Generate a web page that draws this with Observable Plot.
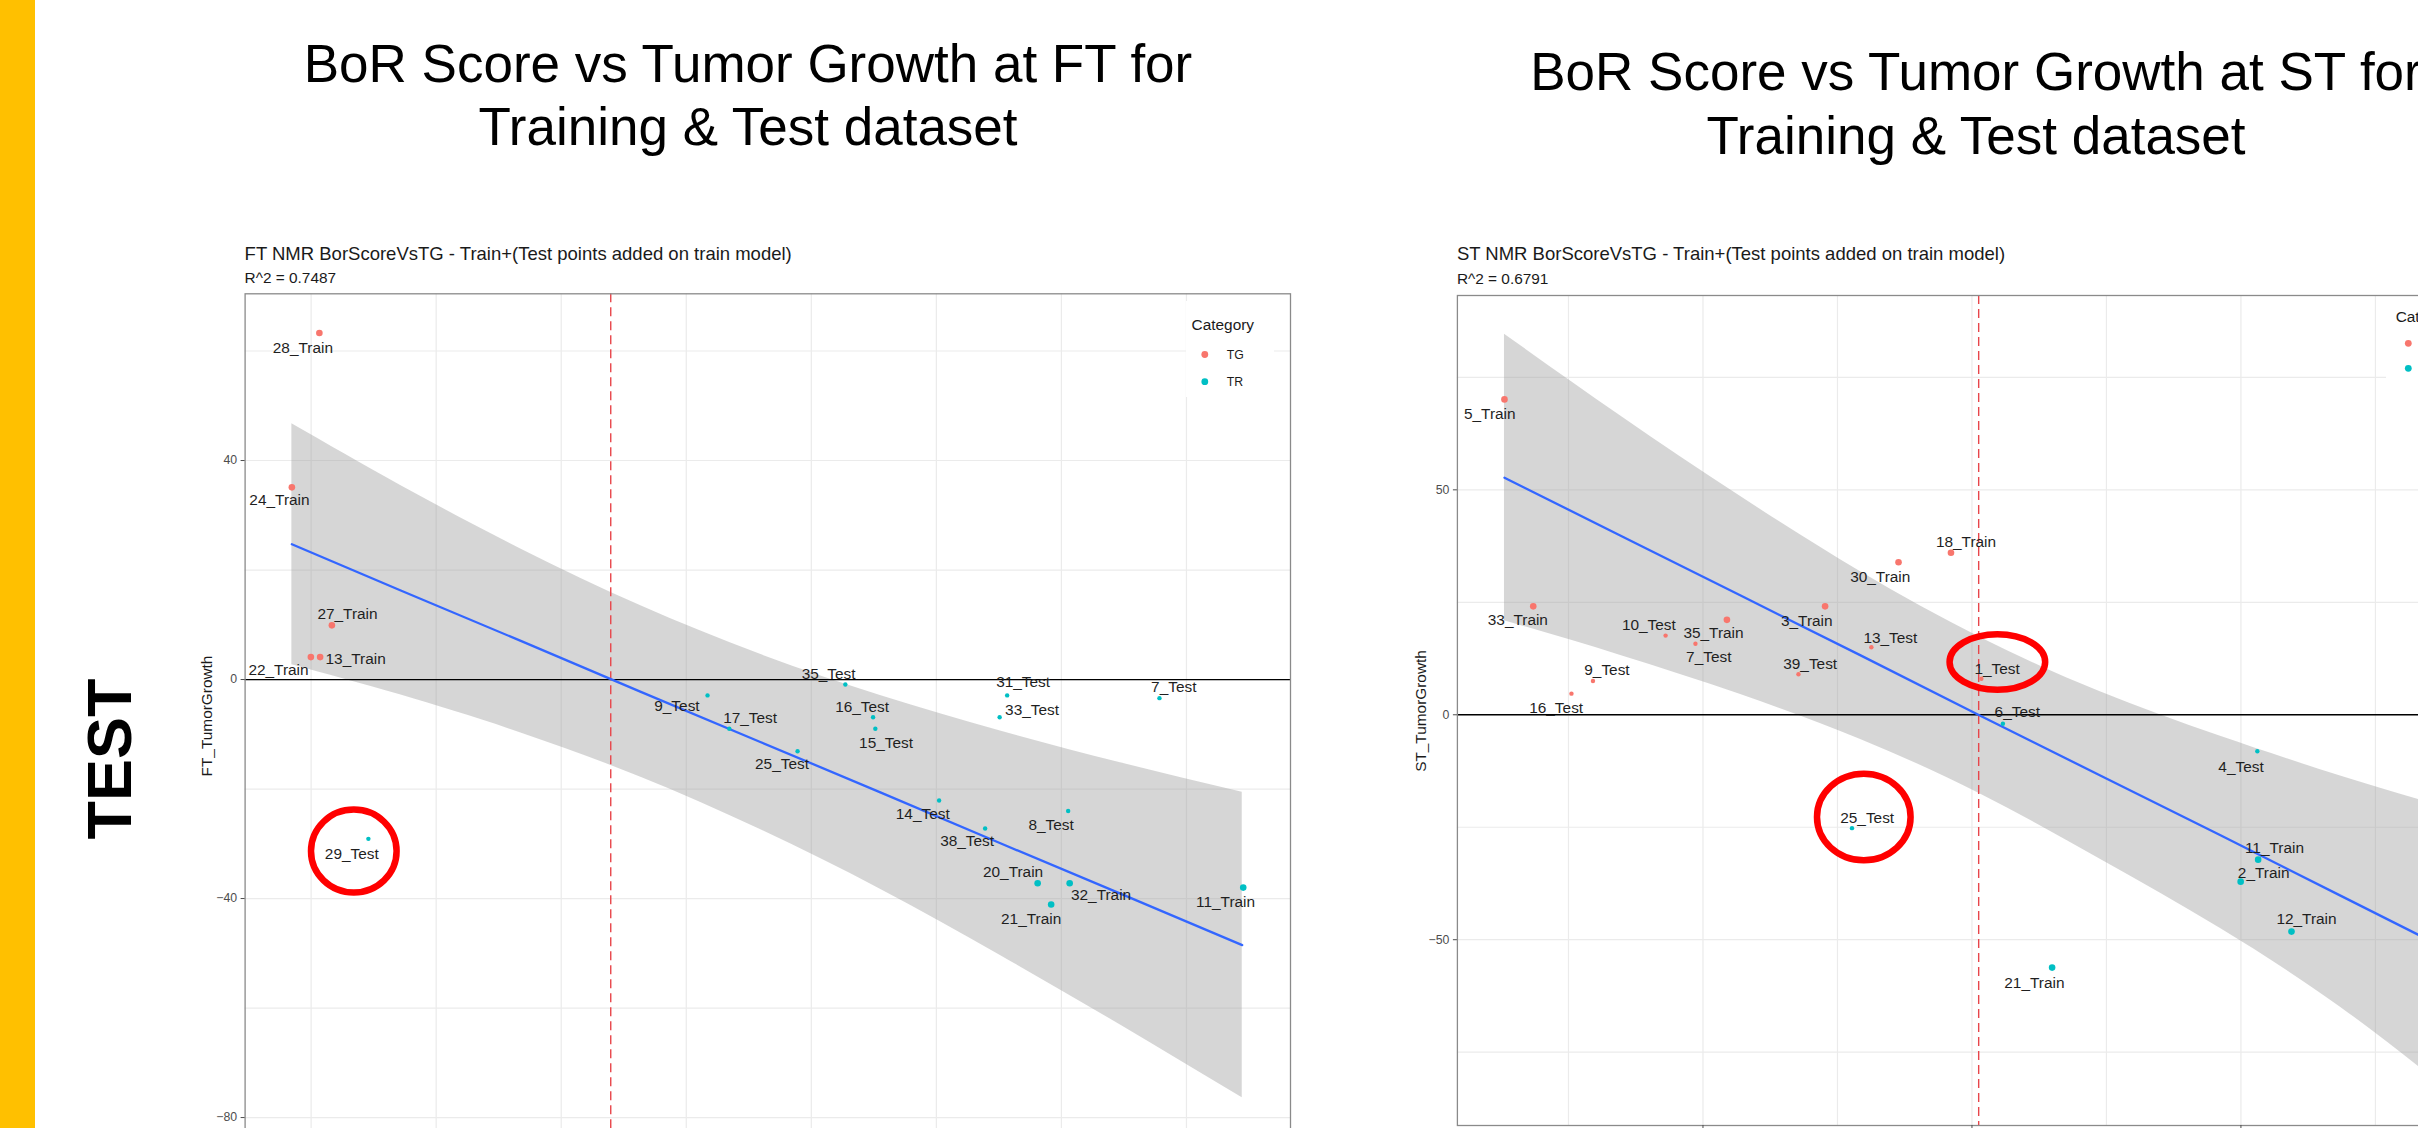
<!DOCTYPE html>
<html>
<head>
<meta charset="utf-8">
<script src="https://cdn.jsdelivr.net/npm/d3@7"></script>
<script src="https://cdn.jsdelivr.net/npm/@observablehq/plot@0.6"></script>
<style>
  html, body { margin: 0; padding: 0; background: #fff; }
  #slide { position: relative; width: 2418px; height: 1128px; overflow: hidden; background: #fff;
           font-family: "Liberation Sans", Arial, sans-serif; }
  #slide > svg { position: absolute; }
</style>
</head>
<body>
<div id="slide"></div>
<script>
// ---------------- DATA ----------------
const categoryDomain = ["TG", "TR"];
const categoryColors = ["#F8766D", "#00BFC4"];

// FT panel
const ftNames = ["28_Train","24_Train","27_Train","13_Train","22_Train","29_Test","9_Test","17_Test","25_Test","35_Test","16_Test","15_Test","14_Test","38_Test","8_Test","31_Test","33_Test","7_Test","20_Train","32_Train","21_Train","11_Train"];
const ftBorScore = [-1.467,-1.577,-1.417,-1.464,-1.501,-1.271,0.085,0.172,0.445,0.636,0.747,0.756,1.011,1.195,1.527,1.283,1.253,1.892,1.405,1.533,1.459,2.227];
const ftTumorGrowth = [63.3,35.1,9.9,4.1,4.1,-29.1,-2.9,-9.0,-13.1,-0.9,-6.9,-9.0,-22.1,-27.2,-24.0,-2.9,-6.9,-3.4,-37.2,-37.2,-41.1,-38.0];
const ftCategory = ["TG","TG","TG","TG","TG","TR","TR","TR","TR","TR","TR","TR","TR","TR","TR","TR","TR","TR","TR","TR","TR","TR"];
const ftFitBorScore = [-1.577,-1.144,-0.664,-0.184,0.296,0.776,1.256,1.736,2.223];
const ftFitLine  = [24.7,16.3,7.1,-2.2,-11.4,-20.6,-29.9,-39.1,-48.5];
const ftFitLower = [2.7,-2.8,-9.7,-17.8,-27.4,-38.3,-50.4,-63.1,-76.4];
const ftFitUpper = [46.7,35.5,23.9,13.5,4.6,-2.9,-9.4,-15.2,-20.6];
const ftXIntercept = -0.302;
const ftYTicks = [-80,-40,0,40];
const ftYGrid = [-80,-60,-40,-20,0,20,40,60];
const ftXGrid = [-1.5,-1,-0.5,0,0.5,1,1.5,2];
const ftXTicks = [-1,0,1,2];

// ST panel
const stNames = ["5_Train","33_Train","16_Test","9_Test","10_Test","7_Test","35_Train","39_Test","3_Train","13_Test","30_Train","18_Train","1_Test","6_Test","25_Test","4_Test","11_Train","2_Train","12_Train","21_Train"];
const stBorScore = [-1.738,-1.631,-1.489,-1.409,-1.139,-1.028,-0.911,-0.645,-0.546,-0.374,-0.273,-0.078,0.035,0.115,-0.446,1.061,1.064,0.999,1.188,0.298];
const stTumorGrowth = [70.1,24.1,4.7,7.5,17.6,15.8,21.1,9.0,24.1,15.0,33.9,36.0,8.0,-2.0,-25.2,-8.1,-32.2,-37.1,-48.2,-56.2];
const stCategory = ["TG","TG","TG","TG","TG","TG","TG","TG","TG","TG","TG","TG","TG","TR","TR","TR","TR","TR","TR","TR"];
const stFitBorScore = [-1.738,-1.306,-0.860,-0.414,0.031,0.477,0.924,1.370,1.762];
const stFitLine  = [52.7,39.8,26.5,13.2,-0.2,-13.5,-26.8,-40.2,-52.0];
const stFitLower = [20.9,13.2,4.5,-5.5,-17.6,-32.1,-47.5,-65.0,-83.0];
const stFitUpper = [84.6,66.4,48.5,31.8,17.2,5.1,-4.8,-13.6,-20.6];
const stXIntercept = 0.025;
const stYTicks = [-50,0,50];
const stYGrid = [-75,-50,-25,0,25,50,75];
const stXGrid = [-1.5,-1,-0.5,0,0.5,1,1.5];
const stXTicks = [-1,0,1];

// label nudges (px) as placed by the repel layout
const ftLabelDx = [-16.5,-12.4,15.6,35.5,-32.4,-16.6,-30.6,20.8,-15.6,-16.7,-11,10.7,-16.4,-18,-17,16,32.4,14.3,-24.6,31.4,-20,-17.7];
const ftLabelDy = [15.6,12.6,-11.7,1.6,13.3,15,10.5,-10.8,12.6,-10,-10,14.4,13.3,12.3,14.3,-13.3,-7.7,-11.3,-11,12.3,15,14.4];
const stLabelDx = [-14.7,-15.4,-15.3,14,-16.7,13.3,-13.4,11.7,-18.3,19,-18.3,15,15.7,14.4,15.2,-16.3,16.3,23,15,-17.7];
const stLabelDy = [14.3,14,14,-10.7,-10.7,13.4,13.4,-10,14.7,-9.4,15,-10.6,-10,-11.6,-10,16,-11.2,-9.1,-12.1,15.2];

// ---------------- RENDER ----------------
const FONT = '"Liberation Sans", Arial, sans-serif';
const NS = "http://www.w3.org/2000/svg";
const slide = document.getElementById("slide");

function panel(o) {
  const W = o.width, H = o.height;
  const xs = d3.scaleLinear(o.xDomain, [o.ml, W - o.mr]);
  const ys = d3.scaleLinear(o.yDomain, [H - o.mb, o.mt]);
  const pts = o.names.map((n, i) => ({
    name: n, x: o.x[i], y: o.y[i], cat: o.cat[i],
    set: n.endsWith("Train") ? "Train" : "Test",
    lx: xs.invert(xs(o.x[i]) + o.ldx[i]),
    ly: ys.invert(ys(o.y[i]) + o.ldy[i])
  }));
  const fit = o.fitX.map((x, i) => ({x, line: o.fitLine[i], lo: o.fitLower[i], hi: o.fitUpper[i]}));
  const ellipses = (index, scales) => {
    const fx = scales && typeof scales.x === "function" ? scales.x : xs;
    const fy = scales && typeof scales.y === "function" ? scales.y : ys;
    const g = document.createElementNS(NS, "g");
    for (const h of o.highlights) {
      const p = pts.find(d => d.name === h.name);
      const e = document.createElementNS(NS, "ellipse");
      e.setAttribute("cx", fx(p.x) + h.dx);
      e.setAttribute("cy", fy(p.y) + h.dy);
      e.setAttribute("rx", h.rx);
      e.setAttribute("ry", h.ry);
      e.setAttribute("fill", "none");
      e.setAttribute("stroke", "#ff0000");
      e.setAttribute("stroke-width", 6.5);
      g.appendChild(e);
    }
    return g;
  };
  const svg = Plot.plot({
    width: W, height: H,
    marginLeft: o.ml, marginRight: o.mr, marginTop: o.mt, marginBottom: o.mb,
    style: {background: "transparent", fontFamily: FONT, fontSize: "12.3px", overflow: "visible", maxWidth: "none"},
    x: {domain: o.xDomain, label: null},
    y: {domain: o.yDomain, label: null},
    color: {domain: categoryDomain, range: categoryColors},
    marks: [
      Plot.gridX(o.xGrid, {stroke: "#ebebeb", strokeOpacity: 1, strokeWidth: 1.2}),
      Plot.gridY(o.yGrid, {stroke: "#ebebeb", strokeOpacity: 1, strokeWidth: 1.2}),
      Plot.areaY(fit, {x: "x", y1: "lo", y2: "hi", fill: "#999999", fillOpacity: 0.4, curve: "natural"}),
      Plot.ruleY([0], {stroke: "#000", strokeWidth: 1.3}),
      Plot.ruleX([o.xIntercept], {stroke: "#e8454a", strokeWidth: 1.4, strokeDasharray: "9,5"}),
      Plot.line(fit, {x: "x", y: "line", stroke: "#3366ff", strokeWidth: 2.3}),
      Plot.dot(pts.filter(d => d.set === "Train"), {x: "x", y: "y", fill: "cat", r: 3.3}),
      Plot.dot(pts.filter(d => d.set === "Test"), {x: "x", y: "y", fill: "cat", r: 2.2}),
      Plot.text(pts, {x: "lx", y: "ly", text: "name", fontSize: 15.4, fill: "#1f1f1f", fontFamily: FONT}),
      ellipses,
      Plot.frame({stroke: "#8a8a8a", strokeWidth: 1.3}),
      Plot.axisY(o.yTicks, {tickSize: 4, tickPadding: 4, fontSize: 12.3, color: "#4d4d4d", label: null}),
      Plot.axisX(o.xTicks, {tickSize: 4, tickFormat: () => "", color: "#4d4d4d", label: null})
    ]
  });
  svg.style.position = "absolute";
  svg.style.left = o.left + "px";
  svg.style.top = "0px";
  slide.appendChild(svg);
}

// yellow side bar (under the plots)
const bg = document.createElementNS(NS, "svg");
bg.setAttribute("width", 2418); bg.setAttribute("height", 1128);
bg.style.left = "0px"; bg.style.top = "0px";
const bar = document.createElementNS(NS, "rect");
bar.setAttribute("x", 0); bar.setAttribute("y", 0); bar.setAttribute("width", 35); bar.setAttribute("height", 1128);
bar.setAttribute("fill", "#FFC000");
bg.appendChild(bar);
slide.appendChild(bg);

panel({
  left: 0, width: 1300, height: 1180, ml: 244.6, mr: 10, mt: 293.3, mb: 44.5,
  xDomain: [-1.764, 2.416], yDomain: [-83.37, 70.45],
  names: ftNames, x: ftBorScore, y: ftTumorGrowth, cat: ftCategory, ldx: ftLabelDx, ldy: ftLabelDy,
  fitX: ftFitBorScore, fitLine: ftFitLine, fitLower: ftFitLower, fitUpper: ftFitUpper,
  xIntercept: ftXIntercept, yTicks: ftYTicks, yGrid: ftYGrid, xGrid: ftXGrid, xTicks: ftXTicks,
  highlights: [{name: "29_Test", dx: -14.1, dy: 12.7, rx: 42.8, ry: 41.5}]
});

panel({
  left: 1300, width: 1300, height: 1180, ml: 156.9, mr: 107, mt: 295, mb: 55,
  xDomain: [-1.913, 1.939], yDomain: [-91.3, 93.2],
  names: stNames, x: stBorScore, y: stTumorGrowth, cat: stCategory, ldx: stLabelDx, ldy: stLabelDy,
  fitX: stFitBorScore, fitLine: stFitLine, fitLower: stFitLower, fitUpper: stFitUpper,
  xIntercept: stXIntercept, yTicks: stYTicks, yGrid: stYGrid, xGrid: stXGrid, xTicks: stXTicks,
  highlights: [
    {name: "1_Test", dx: 16.5, dy: -16.3, rx: 47.8, ry: 27.8},
    {name: "25_Test", dx: 12.3, dy: -10.7, rx: 46.8, ry: 43.3}
  ]
});

// overlay: titles, axis titles, legends
const ov = document.createElementNS(NS, "svg");
ov.setAttribute("width", 2418); ov.setAttribute("height", 1128);
ov.style.left = "0px"; ov.style.top = "0px";
ov.style.fontFamily = FONT;
slide.appendChild(ov);
function add(tag, attrs, text) {
  const e = document.createElementNS(NS, tag);
  for (const k in attrs) e.setAttribute(k, attrs[k]);
  if (text != null) e.textContent = text;
  ov.appendChild(e);
  return e;
}
// slide headings
add("text", {x: 748, y: 82, "text-anchor": "middle", "font-size": 53, fill: "#000"}, "BoR Score vs Tumor Growth at FT for");
add("text", {x: 748, y: 145, "text-anchor": "middle", "font-size": 53, fill: "#000"}, "Training & Test dataset");
add("text", {x: 1976, y: 90, "text-anchor": "middle", "font-size": 53, fill: "#000"}, "BoR Score vs Tumor Growth at ST for");
add("text", {x: 1976, y: 154, "text-anchor": "middle", "font-size": 53, fill: "#000"}, "Training & Test dataset");
// side label
add("text", {transform: "translate(130.5,759) rotate(-90)", "text-anchor": "middle", "font-size": 63, "font-weight": "bold", fill: "#000"}, "TEST");
// plot titles
add("text", {x: 244.6, y: 260, "font-size": 18.5, fill: "#1a1a1a"}, "FT NMR BorScoreVsTG - Train+(Test points added on train model)");
add("text", {x: 244.6, y: 283.3, "font-size": 15.4, fill: "#1a1a1a"}, "R^2 = 0.7487");
add("text", {x: 1456.9, y: 260, "font-size": 18.5, fill: "#1a1a1a"}, "ST NMR BorScoreVsTG - Train+(Test points added on train model)");
add("text", {x: 1456.9, y: 284, "font-size": 15.4, fill: "#1a1a1a"}, "R^2 = 0.6791");
// axis titles
add("text", {transform: "translate(212.3,716) rotate(-90)", "text-anchor": "middle", "font-size": 15.4, fill: "#1a1a1a"}, "FT_TumorGrowth");
add("text", {transform: "translate(1425.5,711) rotate(-90)", "text-anchor": "middle", "font-size": 15.4, fill: "#1a1a1a"}, "ST_TumorGrowth");
// legends
function legend(x0, y0, w, h, tx, ty, kx, ky1, ky2) {
  add("rect", {x: x0, y: y0, width: w, height: h, fill: "#fff"});
  add("text", {x: tx, y: ty, "font-size": 15.4, fill: "#1a1a1a"}, "Category");
  categoryDomain.forEach((c, i) => {
    const ky = i === 0 ? ky1 : ky2;
    add("circle", {cx: kx, cy: ky, r: 3.4, fill: categoryColors[i]});
    add("text", {x: kx + 22, y: ky + 4.4, "font-size": 12.3, fill: "#1a1a1a"}, c);
  });
}
legend(1186, 301, 88, 96, 1191.6, 329.5, 1204.8, 354.5, 381.7);
legend(2386, 300, 60, 92, 2395.7, 322.2, 2408.3, 343.3, 368.3);
</script>
</body>
</html>
